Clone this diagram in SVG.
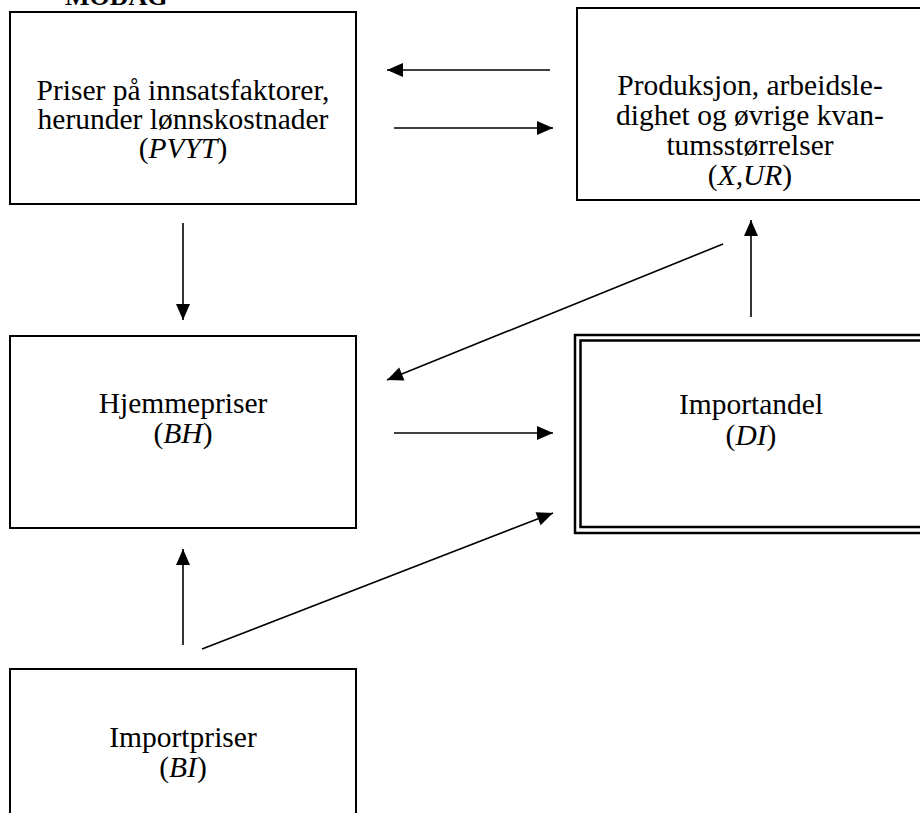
<svg xmlns="http://www.w3.org/2000/svg" width="920" height="813" viewBox="0 0 920 813">
<style>
.box{fill:#fff;stroke:#000;stroke-width:2}
.dbl{fill:none;stroke:#000;stroke-width:2.5}
.t{font-family:"Liberation Serif","Times New Roman",serif;font-size:29.5px;fill:#000;text-anchor:middle}
.title{font-family:"Liberation Serif","Times New Roman",serif;font-size:26px;font-weight:bold;fill:#000}
.c{stroke:#000;stroke-width:1.6;fill:none;marker-end:url(#ah)}
</style>
<defs>
<marker id="ah" markerUnits="userSpaceOnUse" markerWidth="18" markerHeight="16" viewBox="0 -8 17 16" refX="16" refY="0" orient="auto">
<path d="M0,-7 L16,0 L0,7 z" fill="#000"/>
</marker>
</defs>
<rect width="920" height="813" fill="#fff"/>
<text class="title" x="65" y="5">MODAG</text>
<g id="pvyt">
<rect class="box" x="10" y="12" width="346" height="192"/>
<text class="t" x="183" y="100">Priser på innsatsfaktorer,</text>
<text class="t" x="183" y="129">herunder lønnskostnader</text>
<text class="t" x="183" y="158">(<tspan font-style="italic">PVYT</tspan>)</text>
</g>
<g id="xur">
<rect class="box" x="577" y="8" width="360" height="192"/>
<text class="t" x="750" y="95">Produksjon, arbeidsle-</text>
<text class="t" x="750" y="125">dighet og øvrige kvan-</text>
<text class="t" x="750" y="155">tumsstørrelser</text>
<text class="t" x="750" y="185">(<tspan font-style="italic">X,UR</tspan>)</text>
</g>
<g id="bh">
<rect class="box" x="10" y="336" width="346" height="192"/>
<text class="t" x="183" y="413">Hjemmepriser</text>
<text class="t" x="183" y="443">(<tspan font-style="italic">BH</tspan>)</text>
</g>
<g id="di">
<rect class="dbl" x="575" y="335" width="360" height="198"/>
<rect class="dbl" x="580.5" y="340.5" width="360" height="186.5"/>
<text class="t" x="751" y="414">Importandel</text>
<text class="t" x="751" y="445">(<tspan font-style="italic">DI</tspan>)</text>
</g>
<g id="bi">
<rect class="box" x="10" y="669" width="346" height="160"/>
<text class="t" x="183" y="747">Importpriser</text>
<text class="t" x="183" y="777">(<tspan font-style="italic">BI</tspan>)</text>
</g>
<g id="connectors">
<line class="c" x1="550" y1="70" x2="387" y2="70"/>
<line class="c" x1="394" y1="128" x2="553" y2="128"/>
<line class="c" x1="183" y1="223" x2="183" y2="320"/>
<line class="c" x1="751" y1="317" x2="751" y2="220"/>
<line class="c" x1="723" y1="244" x2="387" y2="380"/>
<line class="c" x1="394" y1="433" x2="553" y2="433"/>
<line class="c" x1="183" y1="645" x2="183" y2="549"/>
<line class="c" x1="202" y1="649" x2="553" y2="513"/>
</g>
</svg>
